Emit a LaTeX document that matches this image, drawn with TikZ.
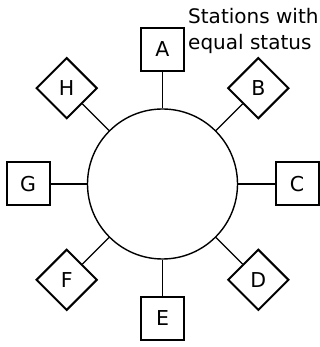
\documentclass[tikz,border=0pt]{standalone}
\usepackage{fontspec}
\setmainfont{DejaVu Sans}
\usetikzlibrary{shapes.geometric}

\begin{document}
\begin{tikzpicture}[x=1pt,y=1pt,
  station/.style={draw, line width=2pt, inner sep=0pt, font=\fontsize{20.5}{22}\selectfont},
  upright/.style={station, rectangle, minimum size=43pt},
  tilted/.style={station, diamond, aspect=1, minimum size=61pt},
  link/.style={line width=1.4pt}]
\useasboundingbox (0,0) rectangle (320,347);
\begin{scope}[shift={(162.5,163)}]
\node[circle, draw, line width=1.4pt, minimum size=150pt, inner sep=0pt] (ring) at (0,0) {};
\foreach \n/\a in {A/90,C/0,E/270,G/180} {
    \node[upright] (st\n) at (\a:134.5) {\n};
    \draw[link] (ring) -- (st\n);
}
\foreach \n/\a in {B/45,D/-45,F/225,H/135} {
    \node[tilted] (st\n) at (\a:135.5) {\n};
    \draw[link] (ring) -- (st\n);
}
\end{scope}
\node[anchor=north west, inner sep=0pt, align=left, font=\fontsize{20}{26}\selectfont] (caption) at (188,339) {Stations with\\equal status};
\end{tikzpicture}
\end{document}
